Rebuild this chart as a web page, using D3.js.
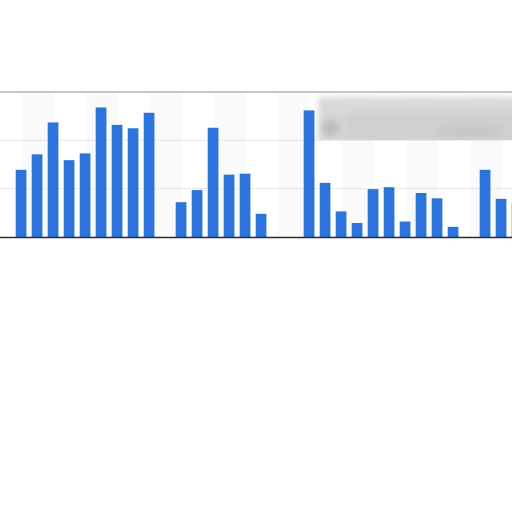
<!DOCTYPE html>
<html>
<head>
<meta charset="utf-8">
<script src="https://cdn.jsdelivr.net/npm/d3@7"></script>
<style>
  html, body { margin: 0; padding: 0; background: #fff; }
  svg { display: block; }
</style>
</head>
<body>
<div id="chart"></div>
<script>
// slots along the x axis (the chart is cropped, only these are visible)
const days = ["1", "2", "3", "4", "5", "6", "7", "8", "9", "10", "11", "12", "13", "14", "15", "16",
  "17", "18", "19", "20", "21", "22", "23", "24", "25", "26", "27", "28", "29", "30", "31", "32"];

// bar values (grid step = 10)
const counts = [13.9, 17.1, 23.7, 15.9, 17.3, 26.8, 23.2, 22.5, 25.7, 0, 7.2, 9.7, 22.6, 12.9, 13.1, 4.8,
  0, 0, 26.2, 11.2, 5.3, 2.9, 9.9, 10.3, 3.2, 9.1, 8.0, 2.1, 0, 13.9, 7.9, 7.0];

const yTicks = [0, 10, 20, 30];

const svgWidth = 512;
const svgHeight = 512;

const plot = {
  left: 13.06,
  right: 525.06,
  top: 92,
  bottom: 237
};

const svg = d3
  .select("#chart")
  .append("svg")
  .attr("width", svgWidth)
  .attr("height", svgHeight);

const defs = svg.append("defs");

defs.append("filter")
  .attr("id", "blur")
  .attr("x", "-20%").attr("y", "-50%")
  .attr("width", "140%").attr("height", "200%")
  .append("feGaussianBlur")
  .attr("stdDeviation", 3.5);

defs.append("clipPath")
  .attr("id", "overlayClip")
  .append("rect")
  .attr("x", 0)
  .attr("y", plot.top + 1)
  .attr("width", svgWidth)
  .attr("height", 140 - plot.top - 1);

// scales
const xBand = d3.scaleBand()
  .domain(days)
  .range([plot.left, plot.right])
  .paddingInner(0.33)
  .paddingOuter(0.165);

const yLinear = d3.scaleLinear()
  .domain([0, 30])
  .range([plot.bottom, plot.top]);

const step = xBand.step();
const center = d => xBand(d) + xBand.bandwidth() / 2;

// faint column stripes, two slots wide
const stripeStarts = days.filter((d, i) => i % 4 === 0);
svg.append("g")
  .selectAll("rect")
  .data(stripeStarts)
  .enter()
  .append("rect")
  .attr("x", d => center(d))
  .attr("y", plot.top)
  .attr("width", step * 2)
  .attr("height", plot.bottom - plot.top)
  .attr("fill", "#fafafa");

// dotted gridlines
svg.append("g")
  .selectAll("line")
  .data(yTicks.filter(t => t > 0 && t < 30))
  .enter()
  .append("line")
  .attr("x1", 0)
  .attr("x2", svgWidth)
  .attr("y1", d => yLinear(d))
  .attr("y2", d => yLinear(d))
  .attr("stroke", "#d0d0d0")
  .attr("stroke-width", 1)
  .attr("stroke-dasharray", "1,1");

// blurred overlay in the top right corner
const overlay = svg.append("g")
  .attr("clip-path", "url(#overlayClip)")
  .append("g")
  .attr("filter", "url(#blur)");

overlay.append("rect")
  .attr("x", 318)
  .attr("y", 97)
  .attr("width", 220)
  .attr("height", 60)
  .attr("fill", "#d8d8d8");

overlay.append("ellipse")
  .attr("cx", 330)
  .attr("cy", 128)
  .attr("rx", 10)
  .attr("ry", 9)
  .attr("fill", "#bdbdbd");

overlay.append("rect")
  .attr("x", 345)
  .attr("y", 112)
  .attr("width", 190)
  .attr("height", 30)
  .attr("fill", "#d0d0d0");

overlay.append("ellipse")
  .attr("cx", 470)
  .attr("cy", 131)
  .attr("rx", 35)
  .attr("ry", 6)
  .attr("fill", "#c6c6c6");

// top frame line
svg.append("line")
  .attr("x1", 0)
  .attr("x2", svgWidth)
  .attr("y1", yLinear(30))
  .attr("y2", yLinear(30))
  .attr("stroke", "#c8c8c8")
  .attr("stroke-width", 2);

// bars
svg.append("g")
  .selectAll("rect")
  .data(days.map((d, i) => ({ day: d, value: counts[i] })).filter(d => d.value > 0))
  .enter()
  .append("rect")
  .attr("x", d => xBand(d.day))
  .attr("y", d => yLinear(d.value))
  .attr("width", xBand.bandwidth())
  .attr("height", d => yLinear(0) - yLinear(d.value))
  .attr("fill", "#2b74db");

// baseline
svg.append("line")
  .attr("x1", 0)
  .attr("x2", svgWidth)
  .attr("y1", yLinear(0) + 0.5)
  .attr("y2", yLinear(0) + 0.5)
  .attr("stroke", "#2d2d2d")
  .attr("stroke-width", 1.5);
</script>
</body>
</html>
